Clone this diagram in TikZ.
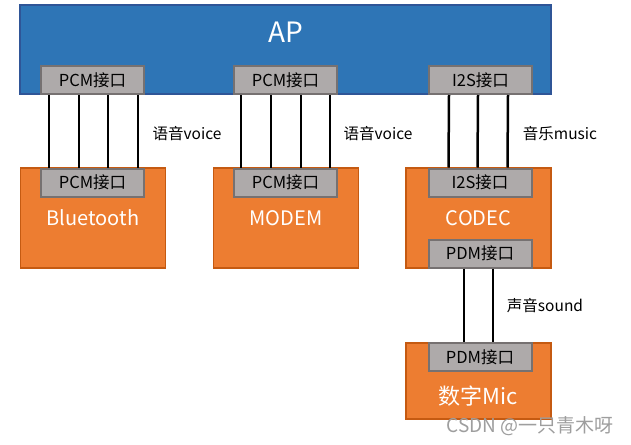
\documentclass[tikz,border=0pt]{standalone}
\usepackage{fontspec}
\setmainfont{Noto Sans CJK SC}
\definecolor{apfill}{HTML}{2E75B6}
\definecolor{apline}{HTML}{2F5597}
\definecolor{orfill}{HTML}{ED7D31}
\definecolor{orline}{HTML}{C55A11}
\definecolor{iffill}{HTML}{AEAAAA}
\definecolor{ifline}{HTML}{767171}
\begin{document}
\begin{tikzpicture}[x=1pt,y=-1pt,
  apbox/.style={draw=apline,fill=apfill,line width=1.5pt,minimum width=531pt,minimum height=89pt,inner sep=0pt},
  orbox/.style={draw=orline,fill=orfill,line width=1.5pt,minimum width=145pt,inner sep=0pt},
  ifbox/.style={draw=ifline,fill=iffill,line width=2pt,minimum width=103pt,minimum height=28pt,inner sep=0pt,font=\fontsize{16.5}{18}\selectfont},
  bigtext/.style={text=white,font=\fontsize{20}{24}\selectfont,inner sep=0pt},
  lbl/.style={font=\fontsize{15.5}{18}\selectfont,inner sep=0pt},
  wire/.style={line width=2.5pt,black}]
\useasboundingbox[fill=white] (0,0) rectangle (631,444);
% AP
\node[apbox] (ap) at (285.5,49.5) {};
\node[text=white,font=\fontsize{28}{32}\selectfont,inner sep=0pt] (aptext) at (285.5,32) {AP};
\node[ifbox] (appcma) at (92.5,80) {PCM接口};
\node[ifbox] (appcmb) at (285.5,80) {PCM接口};
\node[ifbox] (api2s) at (480.5,80) {I2S接口};
% Bluetooth
\node[orbox,minimum height=100pt] (bt) at (93,218) {};
\node[ifbox] (btpcm) at (92.5,182.5) {PCM接口};
\node[bigtext] (bttext) at (93,218) {Bluetooth};
% MODEM
\node[orbox,minimum height=100pt] (modem) at (286,218) {};
\node[ifbox] (modempcm) at (285.5,182.5) {PCM接口};
\node[bigtext] (modemtext) at (286,218) {MODEM};
% CODEC
\node[orbox,minimum height=100pt] (codec) at (478.5,218) {};
\node[ifbox] (codeci2s) at (480,182.5) {I2S接口};
\node[bigtext] (codectext) at (478.5,218) {CODEC};
\node[ifbox] (codecpdm) at (480,253.5) {PDM接口};
% Mic
\node[orbox,minimum height=76pt] (mic) at (478.5,381) {};
\node[ifbox] (micpdm) at (480,357) {PDM接口};
\node[bigtext,font=\fontsize{22}{26}\selectfont] (mictext) at (478.5,396) {数字Mic};
% wires
\foreach \dx in {-43.5,-13.5,15.5,45.5}
  \draw[wire] ([xshift=\dx pt]appcma.south) -- ([xshift=\dx pt]btpcm.north);
\foreach \dx in {-44.5,-14.5,15.5,44.5}
  \draw[wire] ([xshift=\dx pt]appcmb.south) -- ([xshift=\dx pt]modempcm.north);
\foreach \dx in {-31.5,-2.5,27.5}
  \draw[wire] ([xshift=\dx pt]api2s.south) -- ([xshift=\dx pt]codeci2s.north);
\foreach \dx in {-16,13}
  \draw[wire] ([xshift=\dx pt]codecpdm.south) -- ([xshift=\dx pt]micpdm.north);
% labels
\node[lbl] (voicea) at (187,134) {语音voice};
\node[lbl] (voiceb) at (378,134) {语音voice};
\node[lbl] (music) at (560,134) {音乐music};
\node[lbl] (sound) at (545,306) {声音sound};
% watermark
\node[text=black!38,font=\fontsize{19}{22}\selectfont,inner sep=0pt] (wm) at (530,426) {CSDN @一只青木呀};
\end{tikzpicture}
\end{document}
